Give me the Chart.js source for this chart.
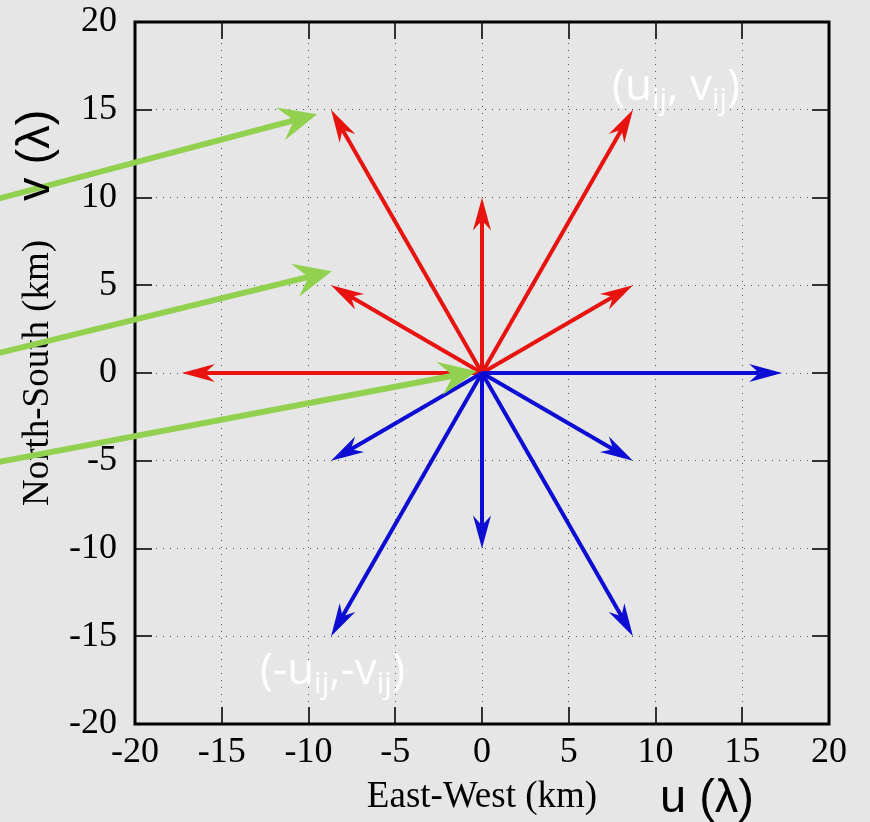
<!DOCTYPE html>
<html>
<head>
<meta charset="utf-8">
<script src="https://cdn.jsdelivr.net/npm/chart.js@4.4.1/dist/chart.umd.min.js"></script>
<style>
  html, body { margin: 0; padding: 0; background: #e6e6e6; }
</style>
</head>
<body>
<canvas id="uv" width="870" height="822"></canvas>
<script>
// baselines (km) : red = (u, v), blue = (-u, -v)
var redU  = [-17.3, -8.7, -8.7, 0, 8.7, 8.7];
var redV  = [0, 5, 15, 10, 15, 5];
var blueU = [17.3, 8.7, 8.7, 0, -8.7, -8.7];
var blueV = [0, -5, -15, -10, -15, -5];

// green pointers coming in from the left margin
var greenTailU = [-28, -28, -28];
var greenTailV = [9.9, 1.1, -5.1];
var greenTipU  = [-9.5, -8.65, -0.3];
var greenTipV  = [14.75, 5.8, 0.1];

var tickValues = [-20, -15, -10, -5, 0, 5, 10, 15, 20];

function pts(us, vs) {
    return us.map(function (u, i) { return { x: u, y: vs[i] }; });
}

function arrow(ctx, x0, y0, x1, y1, head) {
    var a = Math.atan2(y1 - y0, x1 - x0);
    var c = Math.cos(a), s = Math.sin(a);
    ctx.beginPath();
    ctx.moveTo(x0, y0);
    ctx.lineTo(x1 - c * head.notch, y1 - s * head.notch);
    ctx.stroke();
    ctx.beginPath();
    ctx.moveTo(x1, y1);
    ctx.lineTo(x1 - c * head.len - s * head.half, y1 - s * head.len + c * head.half);
    ctx.lineTo(x1 - c * head.notch, y1 - s * head.notch);
    ctx.lineTo(x1 - c * head.len + s * head.half, y1 - s * head.len - c * head.half);
    ctx.closePath();
    ctx.fill();
}

function subText(ctx, parts, x, y) {
    parts.forEach(function (p) {
        ctx.font = p[1] ? '30px "Open Sans"' : '44px "Open Sans"';
        ctx.fillText(p[0], x, y + (p[1] ? 9 : 0));
        x += ctx.measureText(p[0]).width;
    });
}

// box with inward tick marks
var frame = {
    id: 'frame',
    beforeDatasetsDraw: function (chart) {
        var ctx = chart.ctx, a = chart.chartArea;
        var xs = chart.scales.x, ys = chart.scales.y;
        ctx.save();
        ctx.strokeStyle = '#333';
        ctx.lineWidth = 2;
        tickValues.forEach(function (t) {
            var px = Math.round(xs.getPixelForValue(t));
            var py = Math.round(ys.getPixelForValue(t));
            ctx.beginPath();
            ctx.moveTo(px, a.bottom); ctx.lineTo(px, a.bottom - 17);
            ctx.moveTo(px, a.top); ctx.lineTo(px, a.top + 17);
            ctx.moveTo(a.left, py); ctx.lineTo(a.left + 17, py);
            ctx.moveTo(a.right, py); ctx.lineTo(a.right - 17, py);
            ctx.stroke();
        });
        ctx.strokeStyle = '#000';
        ctx.lineWidth = 3;
        ctx.strokeRect(a.left, a.top, a.right - a.left, a.bottom - a.top);
        ctx.restore();
    }
};

var arrows = {
    id: 'arrows',
    afterDatasetsDraw: function (chart) {
        var ctx = chart.ctx;
        var xs = chart.scales.x, ys = chart.scales.y;
        ctx.save();
        ctx.lineCap = 'butt';
        chart.data.datasets.forEach(function (ds, i) {
            var meta = chart.getDatasetMeta(i);
            ctx.strokeStyle = ds.borderColor;
            ctx.fillStyle = ds.borderColor;
            ctx.lineWidth = ds.borderWidth;
            meta.data.forEach(function (pt, j) {
                var t = ds.tails ? ds.tails[j] : { x: 0, y: 0 };
                arrow(ctx, xs.getPixelForValue(t.x), ys.getPixelForValue(t.y), pt.x, pt.y, ds.head);
            });
        });
        ctx.restore();
    },
    afterDraw: function (chart) {
        var ctx = chart.ctx;
        ctx.save();
        ctx.fillStyle = '#fff';
        ctx.textBaseline = 'alphabetic';
        subText(ctx, [['(u', 0], ['ij', 1], [', v', 0], ['ij', 1], [')', 0]], 612, 100);
        subText(ctx, [['(-u', 0], ['ij', 1], [',-v', 0], ['ij', 1], [')', 0]], 260, 684);

        ctx.fillStyle = '#000';
        ctx.font = '47px "Liberation Sans"';
        ctx.fillText('u (\u03bb)', 660, 812);
        ctx.translate(49, 201);
        ctx.rotate(-Math.PI / 2);
        ctx.fillText('v (\u03bb)', 0, 0);
        ctx.restore();
    }
};

var serif = { family: '"Liberation Serif", "Times New Roman", serif', size: 36 };

function axis(title, pad, fit) {
    return {
        type: 'linear',
        min: -20,
        max: 20,
        ticks: { stepSize: 5, color: '#000', font: serif, padding: pad },
        grid: { color: '#555', lineWidth: 1, drawTicks: false },
        border: { display: false, dash: [1, 6] },
        title: { display: true, text: title, color: '#000', font: { family: serif.family, size: 37 } },
        afterFit: function (s) {
            fit(s);
            // let the layout padding alone decide the plot box
            s.paddingTop = 0; s.paddingBottom = 0;
            s.paddingLeft = 0; s.paddingRight = 0;
        }
    };
}

var xAxis = axis('East-West (km)', 7, function (s) { s.height = 98; });
xAxis.title.padding = { top: 0, bottom: 3 };
var yAxis = axis('North-South (km)', 18, function (s) { s.width = 135; });
yAxis.title.padding = { top: 16, bottom: 0 };

new Chart(document.getElementById('uv'), {
    type: 'scatter',
    data: {
        datasets: [
            {
                label: '(u, v)',
                data: pts(redU, redV),
                borderColor: '#e8120f',
                borderWidth: 4,
                pointRadius: 0,
                head: { len: 33, half: 9, notch: 23 }
            },
            {
                label: '(-u, -v)',
                data: pts(blueU, blueV),
                borderColor: '#0c0cd4',
                borderWidth: 4,
                pointRadius: 0,
                head: { len: 33, half: 9, notch: 23 }
            },
            {
                label: 'pointers',
                data: pts(greenTipU, greenTipV),
                tails: pts(greenTailU, greenTailV),
                borderColor: '#92d050',
                borderWidth: 6,
                pointRadius: 0,
                head: { len: 38, half: 17, notch: 24 }
            }
        ]
    },
    options: {
        responsive: false,
        animation: false,
        layout: { padding: { top: 22, right: 41, left: 0, bottom: 0 } },
        plugins: { legend: { display: false }, tooltip: { enabled: false } },
        scales: { x: xAxis, y: yAxis }
    },
    plugins: [frame, arrows]
});
</script>
</body>
</html>
